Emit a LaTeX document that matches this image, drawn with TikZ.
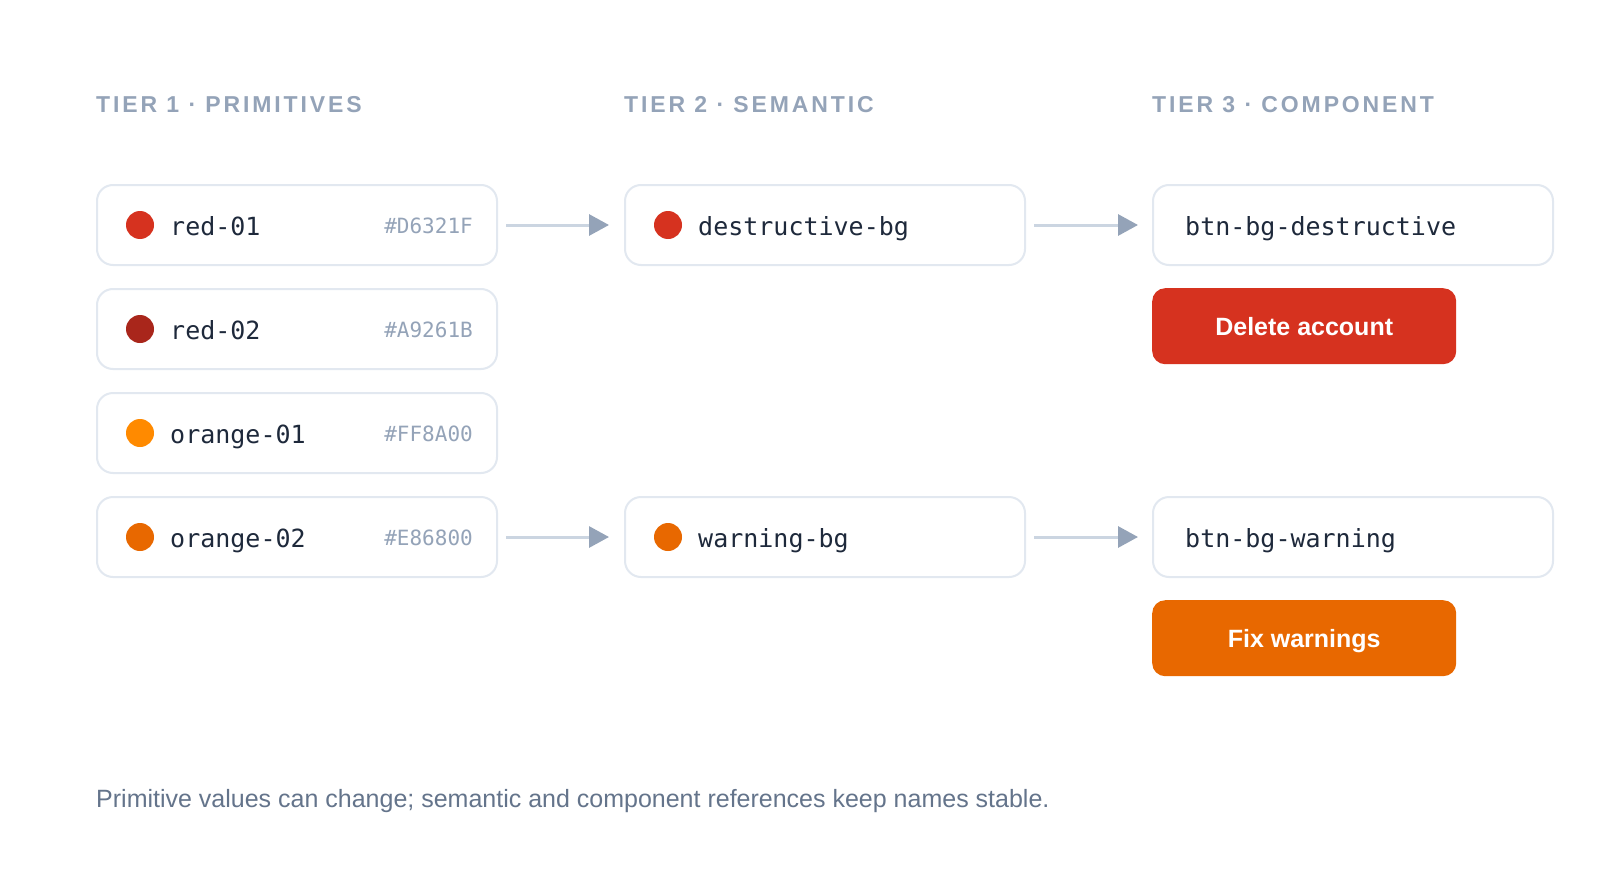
\documentclass[tikz,border=0pt]{standalone}
\usepackage{fontspec}
\setmainfont{Liberation Sans}
\setmonofont{DejaVu Sans Mono}
\newfontfamily\headfont[LetterSpace=12.5]{Liberation Sans}
\usepackage{tikz}
\usetikzlibrary{positioning, arrows.meta}

\definecolor{ink}{HTML}{1E293B}
\definecolor{muted}{HTML}{94A3B8}
\definecolor{note}{HTML}{64748B}
\definecolor{edge}{HTML}{E2E8F0}
\definecolor{wire}{HTML}{CBD5E1}
\definecolor{red01}{HTML}{D6321F}
\definecolor{red02}{HTML}{A9261B}
\definecolor{orange01}{HTML}{FF8A00}
\definecolor{orange02}{HTML}{E86800}

\tikzset{
  tokenbox/.style={draw=edge, line width=2pt, fill=white, rounded corners=16pt,
    minimum width=400pt, minimum height=80pt, anchor=north west, inner sep=0},
  swatch/.style={circle, inner sep=0, minimum size=28pt},
  tokenname/.style={font=\ttfamily\fontsize{25}{30}\selectfont, text=ink, inner sep=0, anchor=base west},
  hexval/.style={font=\ttfamily\fontsize{21}{25}\selectfont, text=muted, inner sep=0, anchor=base east},
  tierhead/.style={font=\headfont\bfseries\fontsize{23}{27}\selectfont, text=muted, inner sep=0, anchor=base west},
  button/.style={rounded corners=13pt, minimum width=304pt, minimum height=76pt, anchor=north west,
    inner sep=0, text height=17.9pt, text depth=0pt, text=white, font=\bfseries\fontsize{25}{30}\selectfont},
  flow/.style={draw=wire, line width=3pt, shorten <=8pt,
    -{Triangle[length=20pt, width=21pt, color=muted]}}
}

\begin{document}
\begin{tikzpicture}[x=1pt, y=-1pt]
    \useasboundingbox[fill=white] (0,0) rectangle (1600,880);

    % Tier headings
    \node[tierhead] (h1) at (96,113) {TIER 1 · PRIMITIVES};
    \node[tierhead] (h2) at (624,113) {TIER 2 · SEMANTIC};
    \node[tierhead] (h3) at (1152,113) {TIER 3 · COMPONENT};

    % Tier 1 primitives
    \foreach \i/\y/\name/\hex/\col in {1/184/red-01/D6321F/red01, 2/288/red-02/A9261B/red02,
      3/392/orange-01/FF8A00/orange01, 4/496/orange-02/E86800/orange02} {
      \node[tokenbox] (p\i) at (96,\y) {};
      \node[swatch, fill=\col] (p\i dot) at ([xshift=44pt]p\i.west) {};
      \node[tokenname] (p\i name) at ([xshift=74pt, yshift=-10pt]p\i.west) {\name};
      \node[hexval] (p\i hex) at ([xshift=-25pt, yshift=-8pt]p\i.east) {\#\hex};
    }

    % Tier 2 semantic
    \foreach \i/\y/\name/\col in {1/184/destructive-bg/red01, 2/496/warning-bg/orange02} {
      \node[tokenbox] (s\i) at (624,\y) {};
      \node[swatch, fill=\col] (s\i dot) at ([xshift=44pt]s\i.west) {};
      \node[tokenname] (s\i name) at ([xshift=74pt, yshift=-10pt]s\i.west) {\name};
    }

    % Tier 3 component
    \node[tokenbox] (c1) at (1152,184) {};
    \node[tokenname] (c1 name) at ([xshift=33pt, yshift=-10pt]c1.west) {btn-bg-destructive};
    \node[tokenbox] (c2) at (1152,496) {};
    \node[tokenname] (c2 name) at ([xshift=33pt, yshift=-10pt]c2.west) {btn-bg-warning};

    % Buttons
    \node[button, fill=red01] (b1) at (1152,288) {Delete account};
    \node[button, fill=orange02] (b2) at (1152,600) {Fix warnings};

    % References
    \draw[flow, shorten >=15pt] (p1.east) -- (s1.west);
    \draw[flow, shorten >=15pt] (p4.east) -- (s2.west);
    \draw[flow, shorten >=14pt] (s1.east) -- (c1.west);
    \draw[flow, shorten >=14pt] (s2.east) -- (c2.west);

    % Footnote
    \node[inner sep=0, anchor=base west, text=note, font=\fontsize{25}{30}\selectfont] (foot) at (96,807)
      {Primitive values can change; semantic and component references keep names stable.};
\end{tikzpicture}
\end{document}
